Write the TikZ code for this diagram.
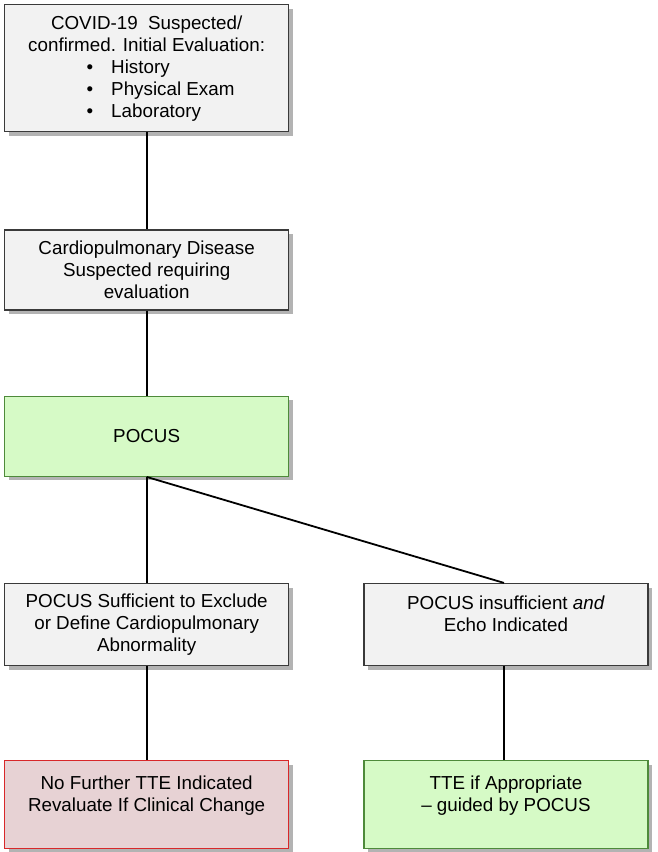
\documentclass[tikz,border=0pt]{standalone}
\usepackage{fontspec}
\setmainfont{Liberation Sans}
\usepackage{tikz}
\usetikzlibrary{shapes,arrows}
\usetikzlibrary{positioning,shadows}
\definecolor{boxgray}{HTML}{F2F2F2}
\definecolor{boxedge}{HTML}{3A3A3A}
\definecolor{okgreen}{HTML}{D6FAC6}
\definecolor{okedge}{HTML}{4E8A3A}
\definecolor{stopred}{HTML}{E7D2D4}
\definecolor{stopedge}{HTML}{D8282A}
\tikzstyle{link}=[draw,line width=1.8pt,black]
\tikzstyle{box} = [rectangle, draw=boxedge, line width=1.3pt, fill=boxgray, minimum width=284pt, inner sep=0pt, align=center, font=\fontsize{18.8pt}{22pt}\selectfont, drop shadow={shadow xshift=4pt, shadow yshift=-4pt, fill=black!50, opacity=0.6}]
\tikzstyle{greenbox} = [box, draw=okedge, fill=okgreen]
\tikzstyle{redbox} = [box, draw=stopedge, fill=stopred]

\begin{document}
\begin{tikzpicture}[node distance=96pt]
\useasboundingbox (-4pt,4pt) rectangle (653pt,-848pt);
\node [box, anchor=north west, minimum height=127pt] (covid) at (0,0)
  {COVID-19\ \ Suspected/\\confirmed. Initial Evaluation:\\
   \makebox[120pt][l]{\textbullet\hspace{18pt}History}\\
   \makebox[120pt][l]{\textbullet\hspace{18pt}Physical Exam}\\
   \makebox[120pt][l]{\textbullet\hspace{18pt}Laboratory}};
\node [box, below=97pt of covid, minimum height=80pt] (disease)
  {Cardiopulmonary Disease\\Suspected requiring\\evaluation};
\node [greenbox, below=85pt of disease, minimum height=80pt] (pocus) {POCUS};
\node [box, below=106pt of pocus, minimum height=82pt] (sufficient)
  {POCUS Sufficient to Exclude\\or Define Cardiopulmonary\\Abnormality};
\node [box, right=74pt of sufficient, minimum height=82pt] (insufficient)
  {POCUS insufficient \textit{and}\\Echo Indicated\\\phantom{X}};
\node [redbox, below of=sufficient, node distance=180pt, minimum height=88pt] (nofurther)
  {No Further TTE Indicated\\Revaluate If Clinical Change\\\phantom{X}};
\node [greenbox, below of=insufficient, node distance=180pt, minimum height=88pt] (tte)
  {TTE if Appropriate\\-- guided by POCUS\\\phantom{X}};

\draw[link] (covid.south) -- (disease.north);
\draw[link] (disease.south) -- (pocus.north);
\draw[link] (pocus.south) -- (sufficient.north);
\draw[link] (pocus.south) -- ([xshift=-2pt]insufficient.north);
\draw[link] (sufficient.south) -- (nofurther.north);
\draw[link] ([xshift=-2pt]insufficient.south) -- ([xshift=-2pt]tte.north);
\end{tikzpicture}
\end{document}
